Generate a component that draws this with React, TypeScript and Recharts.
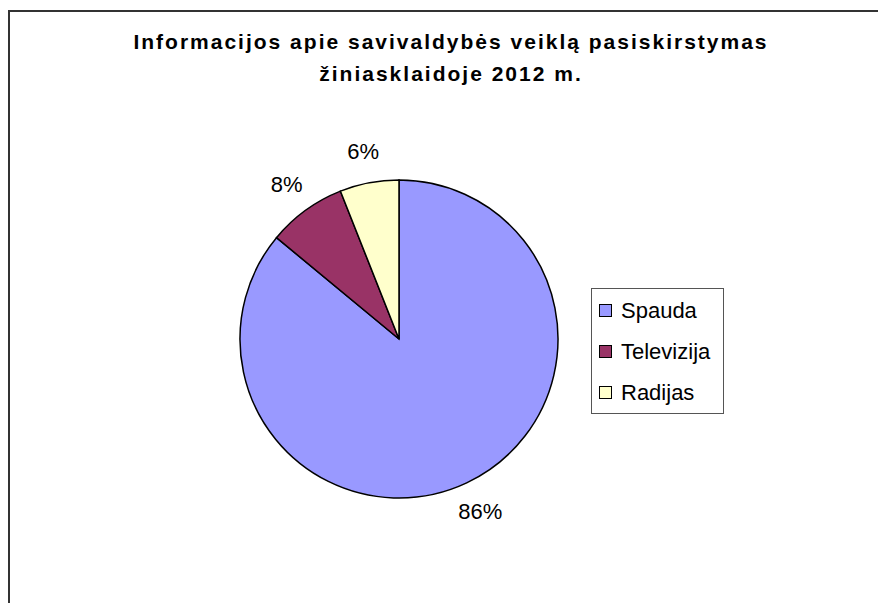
import { Cell, Legend, Pie, PieChart } from "recharts";

const CATEGORIES = ["Spauda", "Televizija", "Radijas"];
const SHARES = [86, 8, 6];
const COLORS = ["#9999ff", "#993366", "#ffffcc"];
const TITLE_LINES = [
  "Informacijos apie savivaldybės veiklą pasiskirstymas",
  "žiniasklaidoje 2012 m.",
];

const FONT = "'Liberation Sans', Arial, sans-serif";
const RAD = Math.PI / 180;

const pieData = CATEGORIES.map((name, i) => ({ name, value: SHARES[i] }));

// excel-ish outside label, text centred a bit past the rim
const renderLabel = (props: any) => {
  const { cx, cy, midAngle, outerRadius, percent } = props;
  const r = outerRadius + 32;
  const x = cx + r * Math.cos(-midAngle * RAD);
  const y = cy + r * Math.sin(-midAngle * RAD);
  return (
    <text
      x={x}
      y={y}
      textAnchor="middle"
      dominantBaseline="central"
      fontFamily={FONT}
      fontSize={22}
      fill="#000"
    >
      {`${Math.round(percent * 100)}%`}
    </text>
  );
};

// keep the data order (recharts sorts legend items by name otherwise)
const LegendBox = (props: any) => {
  const payload: any[] = props.payload ?? [];
  const items = CATEGORIES.map((c, i) => {
    const hit = payload.find((p) => p.value === c);
    return { label: c, color: hit?.color ?? COLORS[i] };
  });
  return (
    <div
      style={{
        width: 131,
        height: 123,
        border: "1px solid #555",
        background: "#fff",
        fontFamily: FONT,
        fontSize: 22,
        paddingTop: 1,
        boxSizing: "content-box",
      }}
    >
      {items.map((it) => (
        <div
          key={it.label}
          style={{ height: 41, display: "flex", alignItems: "center" }}
        >
          <span
            style={{
              display: "inline-block",
              width: 11,
              height: 11,
              marginLeft: 7,
              marginRight: 9,
              background: it.color,
              border: "1.5px solid #000",
            }}
          />
          <span style={{ color: "#000" }}>{it.label}</span>
        </div>
      ))}
    </div>
  );
};

export default function App() {
  return (
    <div
      style={{
        position: "fixed",
        inset: 0,
        overflow: "hidden",
        background: "#fff",
      }}
    >
      <div
        style={{
          position: "absolute",
          left: 8,
          top: 10,
          width: 900,
          height: 700,
          borderLeft: "2px solid #333",
          borderTop: "2px solid #333",
        }}
      />
      {TITLE_LINES.map((line, i) => (
        <div
          key={line}
          style={{
            position: "absolute",
            left: 0,
            width: 902,
            top: 30 + i * 32,
            textAlign: "center",
            fontFamily: FONT,
            fontWeight: "bold",
            fontSize: 21,
            letterSpacing: 2,
            lineHeight: "24px",
            color: "#000",
          }}
        >
          {line}
        </div>
      ))}
      <PieChart
        width={878}
        height={603}
        margin={{ top: 0, right: 0, bottom: 0, left: 0 }}
        style={{ position: "absolute", left: 0, top: 0 }}
      >
        <Pie
          data={pieData}
          dataKey="value"
          nameKey="name"
          cx={399}
          cy={339}
          outerRadius={159}
          startAngle={90}
          endAngle={-270}
          stroke="#000"
          strokeWidth={1.5}
          label={renderLabel}
          labelLine={false}
          isAnimationActive={false}
        >
          {pieData.map((d, i) => (
            <Cell key={d.name} fill={COLORS[i]} />
          ))}
        </Pie>
        <Legend
          content={LegendBox}
          wrapperStyle={{ position: "absolute", left: 591, top: 288, width: "auto" }}
        />
      </PieChart>
    </div>
  );
}
